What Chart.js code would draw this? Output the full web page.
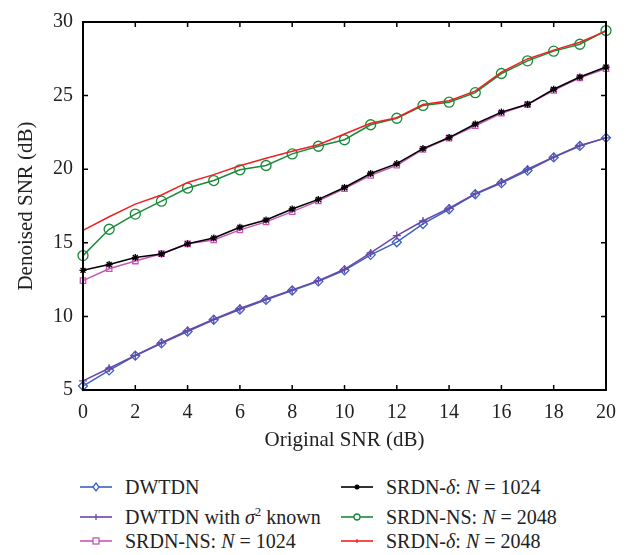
<!DOCTYPE html>
<html>
<head>
<meta charset="utf-8">
<script src="https://cdn.jsdelivr.net/npm/chart.js@4.4.1/dist/chart.umd.min.js"></script>
<style>
  body { margin: 0; background: #fff; }
  #wrap { position: relative; width: 631px; height: 555px; }
  #chart { position: absolute; left: 0; top: 0; }
  .leg { position: absolute; font-family: "Liberation Serif", "DejaVu Serif", serif; font-size: 20px; color: #222; white-space: nowrap; }
  .leg svg { position: absolute; left: 0; top: 0; }
  .leg span { position: absolute; top: -1px; line-height: 22px; }
  .leg i { font-style: italic; }
  .leg sup { font-size: 13px; line-height: 0; }
</style>
</head>
<body>
<div id="wrap">
  <canvas id="chart" width="631" height="460"></canvas>
  <div id="legend"></div>
</div>
<script>
const snr = [0, 1, 2, 3, 4, 5, 6, 7, 8, 9, 10, 11, 12, 13, 14, 15, 16, 17, 18, 19, 20];

const dwtdn = [5.27, 6.33, 7.33, 8.17, 8.97, 9.77, 10.47, 11.12, 11.76, 12.38, 13.13,
  14.18, 15.04, 16.28, 17.28, 18.30, 19.05, 19.91, 20.80, 21.58, 22.13];
const dwtdnKnown = [5.62, 6.48, 7.35, 8.21, 9.04, 9.81, 10.54, 11.18, 11.80, 12.43, 13.20,
  14.31, 15.49, 16.48, 17.35, 18.34, 19.12, 20.01, 20.84, 21.62, 22.13];
const srdnNs1024 = [12.43, 13.24, 13.76, 14.26, 14.93, 15.19, 15.88, 16.42, 17.12, 17.85, 18.68,
  19.58, 20.27, 21.34, 22.11, 22.95, 23.80, 24.39, 25.35, 26.21, 26.83];
const srdnD1024 = [13.13, 13.53, 14.00, 14.24, 14.93, 15.33, 16.06, 16.55, 17.30, 17.95, 18.76,
  19.71, 20.38, 21.40, 22.15, 23.07, 23.88, 24.41, 25.43, 26.26, 26.94];
const srdnNs2048 = [14.13, 15.92, 16.95, 17.83, 18.72, 19.23, 19.96, 20.25, 21.04, 21.56, 22.00,
  23.02, 23.46, 24.33, 24.55, 25.20, 26.50, 27.36, 28.02, 28.49, 29.42];
const srdnD2048 = [15.84, 16.77, 17.63, 18.25, 19.10, 19.63, 20.23, 20.74, 21.22, 21.66, 22.39,
  23.12, 23.50, 24.39, 24.65, 25.30, 26.59, 27.49, 28.09, 28.62, 29.38];

const xTicks = [0, 2, 4, 6, 8, 10, 12, 14, 16, 18, 20];
const yTicks = [5, 10, 15, 20, 25, 30];

const FONT = '"Liberation Serif", "DejaVu Serif", serif';

function pts(vals) {
  return vals.map((v, i) => ({ x: snr[i], y: v }));
}

function series(label, vals, color, style, radius, order) {
  return {
    label: label,
    data: pts(vals),
    borderColor: color,
    backgroundColor: 'rgba(0,0,0,0)',
    pointBorderColor: color,
    pointBackgroundColor: style === 'star' ? color : 'rgba(0,0,0,0)',
    pointStyle: style,
    pointRadius: radius,
    pointBorderWidth: 1.3,
    borderWidth: 1.5,
    tension: 0,
    clip: false,
    order: order,
  };
}

// inward tick marks on all four sides plus the box
const frameTicks = {
  id: 'frameTicks',
  afterDraw(chart) {
    const { ctx, chartArea: a, scales } = chart;
    ctx.save();
    ctx.strokeStyle = '#000';
    ctx.lineWidth = 1.5;
    ctx.beginPath();
    xTicks.forEach(v => {
      const px = scales.x.getPixelForValue(v);
      ctx.moveTo(px, a.bottom); ctx.lineTo(px, a.bottom - 5);
      ctx.moveTo(px, a.top); ctx.lineTo(px, a.top + 5);
    });
    yTicks.forEach(v => {
      const py = scales.y.getPixelForValue(v);
      ctx.moveTo(a.left, py); ctx.lineTo(a.left + 5, py);
      ctx.moveTo(a.right, py); ctx.lineTo(a.right - 5, py);
    });
    ctx.stroke();
    ctx.lineWidth = 2;
    ctx.strokeRect(a.left, a.top, a.right - a.left, a.bottom - a.top);
    ctx.restore();
  }
};

new Chart(document.getElementById('chart'), {
  type: 'line',
  data: {
    datasets: [
      series('DWTDN', dwtdn, '#3b63c0', 'rectRot', 4.5, 5),
      series('DWTDN with σ² known', dwtdnKnown, '#6b45a8', 'cross', 4, 4),
      series('SRDN-NS: N = 1024', srdnNs1024, '#c456b6', 'rect', 3.8, 3),
      series('SRDN-δ: N = 1024', srdnD1024, '#000000', 'star', 3.5, 2),
      series('SRDN-NS: N = 2048', srdnNs2048, '#1a8a3a', 'circle', 5, 1),
      series('SRDN-δ: N = 2048', srdnD2048, '#f02020', 'circle', 0, 0),
    ]
  },
  options: {
    responsive: false,
    animation: false,
    layout: { padding: { left: 0, top: 14, right: 25, bottom: 0 } },
    plugins: { legend: { display: false }, tooltip: { enabled: false } },
    scales: {
      x: {
        type: 'linear',
        min: 0,
        max: 20,
        afterBuildTicks: s => { s.ticks = xTicks.map(v => ({ value: v })); },
        afterFit: s => { s.height = 70; },
        grid: { display: false, drawTicks: false },
        border: { display: false },
        ticks: { color: '#222', padding: 11, font: { family: FONT, size: 20 }, maxRotation: 0 },
        title: { display: true, text: 'Original SNR (dB)', color: '#222', font: { family: FONT, size: 21 }, padding: { top: 4, bottom: 7 } },
      },
      y: {
        min: 5,
        max: 30,
        afterBuildTicks: s => { s.ticks = yTicks.map(v => ({ value: v })); },
        afterFit: s => { s.width = 83; },
        grid: { display: false, drawTicks: false },
        border: { display: false },
        ticks: { color: '#222', padding: 10, font: { family: FONT, size: 20 } },
        title: { display: true, text: 'Denoised SNR (dB)', color: '#222', font: { family: FONT, size: 21 }, padding: { top: 14, bottom: 4 } },
      }
    }
  },
  plugins: [frameTicks]
});

// two-column legend under the plot
const legendItems = [
  { x: 80, y: 477, color: '#3b63c0', mark: 'diamond', html: 'DWTDN' },
  { x: 80, y: 507, color: '#6b45a8', mark: 'plus', html: 'DWTDN with <i>σ</i><sup>2</sup> known' },
  { x: 80, y: 531, color: '#c456b6', mark: 'square', html: 'SRDN-NS: <i>N</i> = 1024' },
  { x: 341, y: 477, color: '#000000', mark: 'dot', html: 'SRDN-<i>δ</i>: <i>N</i> = 1024' },
  { x: 341, y: 507, color: '#1a8a3a', mark: 'circle', html: 'SRDN-NS: <i>N</i> = 2048' },
  { x: 341, y: 531, color: '#f02020', mark: 'tick', html: 'SRDN-<i>δ</i>: <i>N</i> = 2048' },
];

function markSvg(mark, c) {
  const cx = 16, cy = 10;
  switch (mark) {
    case 'diamond': return `<path d="M${cx} ${cy - 4} L${cx + 3} ${cy} L${cx} ${cy + 4} L${cx - 3} ${cy} Z" fill="#fff" stroke="${c}" stroke-width="1.3"/>`;
    case 'plus': return `<path d="M${cx} ${cy - 3} V${cy + 3}" stroke="${c}" stroke-width="1.3"/>`;
    case 'square': return `<rect x="${cx - 3}" y="${cy - 3}" width="6" height="6" fill="#fff" stroke="${c}" stroke-width="1.3"/>`;
    case 'dot': return `<circle cx="${cx}" cy="${cy}" r="2.5" fill="${c}"/>`;
    case 'circle': return `<circle cx="${cx}" cy="${cy}" r="3" fill="#fff" stroke="${c}" stroke-width="1.3"/>`;
    default: return `<path d="M${cx} ${cy - 2} V${cy + 2}" stroke="${c}" stroke-width="1.2"/>`;
  }
}

const legendEl = document.getElementById('legend');
legendItems.forEach(it => {
  const d = document.createElement('div');
  d.className = 'leg';
  d.style.left = it.x + 'px';
  d.style.top = it.y + 'px';
  d.innerHTML = `<svg width="34" height="20"><line x1="0" y1="10" x2="32" y2="10" stroke="${it.color}" stroke-width="1.6"/>${markSvg(it.mark, it.color)}</svg>` +
    `<span style="left:45px">${it.html}</span>`;
  legendEl.appendChild(d);
});
</script>
</body>
</html>
